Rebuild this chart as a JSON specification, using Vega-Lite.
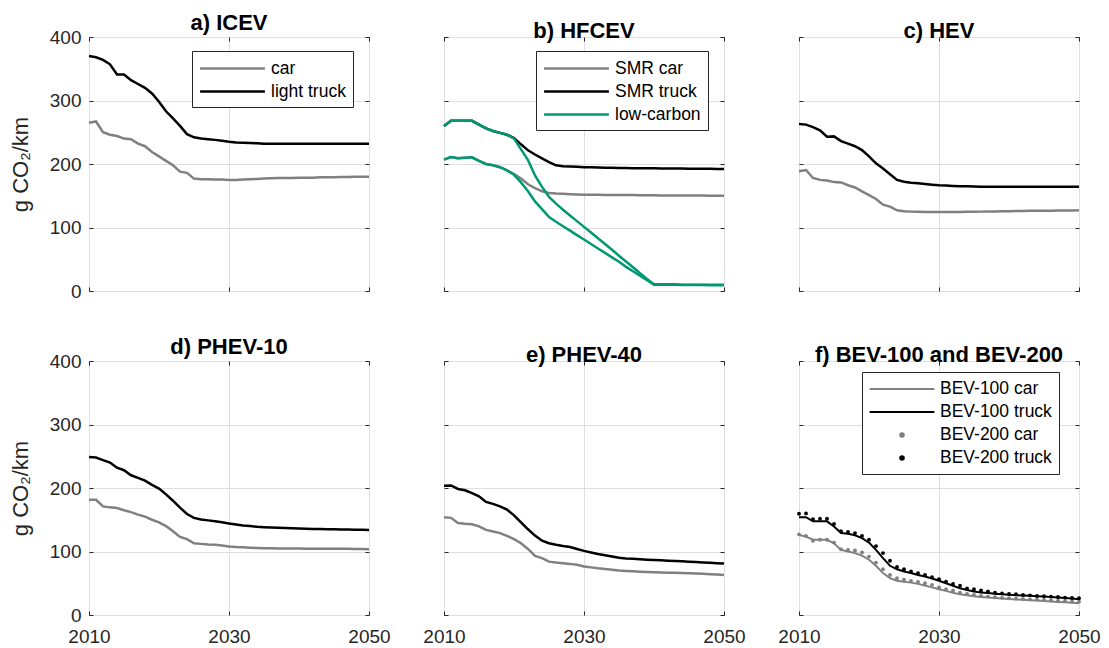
{
  "$schema": "https://vega.github.io/schema/vega-lite/v6.json",
  "background": "white",
  "padding": {"left": 8, "top": 11, "right": 5, "bottom": 5},
  "bounds": "flush",
  "columns": 3,
  "spacing": {"row": 70, "column": 75},
  "datasets": {
    "icev": [
      {"series":"car","year":2010,"value":265},{"series":"car","year":2011,"value":267},{"series":"car","year":2012,"value":250},{"series":"car","year":2013,"value":246},{"series":"car","year":2014,"value":244},{"series":"car","year":2015,"value":240},{"series":"car","year":2016,"value":239},{"series":"car","year":2017,"value":232},{"series":"car","year":2018,"value":228},{"series":"car","year":2019,"value":219},{"series":"car","year":2020,"value":212},{"series":"car","year":2021,"value":205},{"series":"car","year":2022,"value":198},{"series":"car","year":2023,"value":188},{"series":"car","year":2024,"value":186},{"series":"car","year":2025,"value":177},{"series":"car","year":2026,"value":176},{"series":"car","year":2027,"value":176},{"series":"car","year":2028,"value":175.5},{"series":"car","year":2029,"value":175.5},{"series":"car","year":2030,"value":175},{"series":"car","year":2031,"value":175},{"series":"car","year":2032,"value":175.5},{"series":"car","year":2033,"value":176},{"series":"car","year":2034,"value":176.5},{"series":"car","year":2035,"value":177},{"series":"car","year":2036,"value":177.5},{"series":"car","year":2037,"value":178},{"series":"car","year":2038,"value":178},{"series":"car","year":2039,"value":178},{"series":"car","year":2040,"value":178.5},{"series":"car","year":2041,"value":178.5},{"series":"car","year":2042,"value":178.5},{"series":"car","year":2043,"value":179},{"series":"car","year":2044,"value":179},{"series":"car","year":2045,"value":179},{"series":"car","year":2046,"value":179.5},{"series":"car","year":2047,"value":179.5},{"series":"car","year":2048,"value":180},{"series":"car","year":2049,"value":180},{"series":"car","year":2050,"value":180},
      {"series":"light truck","year":2010,"value":370},{"series":"light truck","year":2011,"value":368},{"series":"light truck","year":2012,"value":364},{"series":"light truck","year":2013,"value":357},{"series":"light truck","year":2014,"value":341},{"series":"light truck","year":2015,"value":341},{"series":"light truck","year":2016,"value":332},{"series":"light truck","year":2017,"value":326},{"series":"light truck","year":2018,"value":320},{"series":"light truck","year":2019,"value":311},{"series":"light truck","year":2020,"value":298},{"series":"light truck","year":2021,"value":283},{"series":"light truck","year":2022,"value":272},{"series":"light truck","year":2023,"value":260},{"series":"light truck","year":2024,"value":247},{"series":"light truck","year":2025,"value":242},{"series":"light truck","year":2026,"value":240},{"series":"light truck","year":2027,"value":239},{"series":"light truck","year":2028,"value":238},{"series":"light truck","year":2029,"value":236.5},{"series":"light truck","year":2030,"value":235},{"series":"light truck","year":2031,"value":234},{"series":"light truck","year":2032,"value":233.5},{"series":"light truck","year":2033,"value":233},{"series":"light truck","year":2034,"value":232.5},{"series":"light truck","year":2035,"value":232},{"series":"light truck","year":2036,"value":232},{"series":"light truck","year":2037,"value":232},{"series":"light truck","year":2038,"value":232},{"series":"light truck","year":2039,"value":232},{"series":"light truck","year":2040,"value":232},{"series":"light truck","year":2041,"value":232},{"series":"light truck","year":2042,"value":232},{"series":"light truck","year":2043,"value":232},{"series":"light truck","year":2044,"value":232},{"series":"light truck","year":2045,"value":232},{"series":"light truck","year":2046,"value":232},{"series":"light truck","year":2047,"value":232},{"series":"light truck","year":2048,"value":232},{"series":"light truck","year":2049,"value":232},{"series":"light truck","year":2050,"value":232}
    ],
    "hfcev": [
      {"series":"SMR car","vehicle":"car","year":2010,"value":207},{"series":"SMR car","vehicle":"car","year":2011,"value":211},{"series":"SMR car","vehicle":"car","year":2012,"value":209},{"series":"SMR car","vehicle":"car","year":2013,"value":210},{"series":"SMR car","vehicle":"car","year":2014,"value":210.5},{"series":"SMR car","vehicle":"car","year":2015,"value":205},{"series":"SMR car","vehicle":"car","year":2016,"value":200},{"series":"SMR car","vehicle":"car","year":2017,"value":198},{"series":"SMR car","vehicle":"car","year":2018,"value":195},{"series":"SMR car","vehicle":"car","year":2019,"value":190},{"series":"SMR car","vehicle":"car","year":2020,"value":184},{"series":"SMR car","vehicle":"car","year":2021,"value":177},{"series":"SMR car","vehicle":"car","year":2022,"value":168},{"series":"SMR car","vehicle":"car","year":2023,"value":162},{"series":"SMR car","vehicle":"car","year":2024,"value":157},{"series":"SMR car","vehicle":"car","year":2025,"value":154.5},{"series":"SMR car","vehicle":"car","year":2026,"value":153.5},{"series":"SMR car","vehicle":"car","year":2027,"value":153},{"series":"SMR car","vehicle":"car","year":2028,"value":152.5},{"series":"SMR car","vehicle":"car","year":2029,"value":152},{"series":"SMR car","vehicle":"car","year":2030,"value":151.7},{"series":"SMR car","vehicle":"car","year":2031,"value":151.5},{"series":"SMR car","vehicle":"car","year":2032,"value":151.5},{"series":"SMR car","vehicle":"car","year":2033,"value":151.3},{"series":"SMR car","vehicle":"car","year":2034,"value":151.2},{"series":"SMR car","vehicle":"car","year":2035,"value":151},{"series":"SMR car","vehicle":"car","year":2036,"value":151},{"series":"SMR car","vehicle":"car","year":2037,"value":151},{"series":"SMR car","vehicle":"car","year":2038,"value":150.8},{"series":"SMR car","vehicle":"car","year":2039,"value":150.7},{"series":"SMR car","vehicle":"car","year":2040,"value":150.6},{"series":"SMR car","vehicle":"car","year":2041,"value":150.5},{"series":"SMR car","vehicle":"car","year":2042,"value":150.5},{"series":"SMR car","vehicle":"car","year":2043,"value":150.4},{"series":"SMR car","vehicle":"car","year":2044,"value":150.3},{"series":"SMR car","vehicle":"car","year":2045,"value":150.3},{"series":"SMR car","vehicle":"car","year":2046,"value":150.2},{"series":"SMR car","vehicle":"car","year":2047,"value":150.2},{"series":"SMR car","vehicle":"car","year":2048,"value":150.1},{"series":"SMR car","vehicle":"car","year":2049,"value":150.1},{"series":"SMR car","vehicle":"car","year":2050,"value":150},
      {"series":"SMR truck","vehicle":"truck","year":2010,"value":260},{"series":"SMR truck","vehicle":"truck","year":2011,"value":268},{"series":"SMR truck","vehicle":"truck","year":2012,"value":268},{"series":"SMR truck","vehicle":"truck","year":2013,"value":268},{"series":"SMR truck","vehicle":"truck","year":2014,"value":268},{"series":"SMR truck","vehicle":"truck","year":2015,"value":262},{"series":"SMR truck","vehicle":"truck","year":2016,"value":256},{"series":"SMR truck","vehicle":"truck","year":2017,"value":252},{"series":"SMR truck","vehicle":"truck","year":2018,"value":249},{"series":"SMR truck","vehicle":"truck","year":2019,"value":246},{"series":"SMR truck","vehicle":"truck","year":2020,"value":241},{"series":"SMR truck","vehicle":"truck","year":2021,"value":231},{"series":"SMR truck","vehicle":"truck","year":2022,"value":221.5},{"series":"SMR truck","vehicle":"truck","year":2023,"value":215},{"series":"SMR truck","vehicle":"truck","year":2024,"value":209},{"series":"SMR truck","vehicle":"truck","year":2025,"value":203},{"series":"SMR truck","vehicle":"truck","year":2026,"value":198},{"series":"SMR truck","vehicle":"truck","year":2027,"value":196.5},{"series":"SMR truck","vehicle":"truck","year":2028,"value":196},{"series":"SMR truck","vehicle":"truck","year":2029,"value":195.5},{"series":"SMR truck","vehicle":"truck","year":2030,"value":195},{"series":"SMR truck","vehicle":"truck","year":2031,"value":194.7},{"series":"SMR truck","vehicle":"truck","year":2032,"value":194.5},{"series":"SMR truck","vehicle":"truck","year":2033,"value":194.2},{"series":"SMR truck","vehicle":"truck","year":2034,"value":194},{"series":"SMR truck","vehicle":"truck","year":2035,"value":193.8},{"series":"SMR truck","vehicle":"truck","year":2036,"value":193.6},{"series":"SMR truck","vehicle":"truck","year":2037,"value":193.5},{"series":"SMR truck","vehicle":"truck","year":2038,"value":193.4},{"series":"SMR truck","vehicle":"truck","year":2039,"value":193.3},{"series":"SMR truck","vehicle":"truck","year":2040,"value":193.2},{"series":"SMR truck","vehicle":"truck","year":2041,"value":193.1},{"series":"SMR truck","vehicle":"truck","year":2042,"value":193},{"series":"SMR truck","vehicle":"truck","year":2043,"value":192.9},{"series":"SMR truck","vehicle":"truck","year":2044,"value":192.8},{"series":"SMR truck","vehicle":"truck","year":2045,"value":192.7},{"series":"SMR truck","vehicle":"truck","year":2046,"value":192.6},{"series":"SMR truck","vehicle":"truck","year":2047,"value":192.5},{"series":"SMR truck","vehicle":"truck","year":2048,"value":192.4},{"series":"SMR truck","vehicle":"truck","year":2049,"value":192.3},{"series":"SMR truck","vehicle":"truck","year":2050,"value":192.2},
      {"series":"low-carbon","vehicle":"car","year":2010,"value":207},{"series":"low-carbon","vehicle":"car","year":2011,"value":211},{"series":"low-carbon","vehicle":"car","year":2012,"value":209},{"series":"low-carbon","vehicle":"car","year":2013,"value":210},{"series":"low-carbon","vehicle":"car","year":2014,"value":210.5},{"series":"low-carbon","vehicle":"car","year":2015,"value":205},{"series":"low-carbon","vehicle":"car","year":2016,"value":200},{"series":"low-carbon","vehicle":"car","year":2017,"value":198},{"series":"low-carbon","vehicle":"car","year":2018,"value":195},{"series":"low-carbon","vehicle":"car","year":2019,"value":190},{"series":"low-carbon","vehicle":"car","year":2020,"value":183},{"series":"low-carbon","vehicle":"car","year":2021,"value":171},{"series":"low-carbon","vehicle":"car","year":2022,"value":157},{"series":"low-carbon","vehicle":"car","year":2023,"value":141},{"series":"low-carbon","vehicle":"car","year":2024,"value":129},{"series":"low-carbon","vehicle":"car","year":2025,"value":116.5},{"series":"low-carbon","vehicle":"car","year":2026,"value":109},{"series":"low-carbon","vehicle":"car","year":2027,"value":102},{"series":"low-carbon","vehicle":"car","year":2028,"value":95},{"series":"low-carbon","vehicle":"car","year":2029,"value":88},{"series":"low-carbon","vehicle":"car","year":2030,"value":81},{"series":"low-carbon","vehicle":"car","year":2031,"value":74},{"series":"low-carbon","vehicle":"car","year":2032,"value":67},{"series":"low-carbon","vehicle":"car","year":2033,"value":60},{"series":"low-carbon","vehicle":"car","year":2034,"value":53},{"series":"low-carbon","vehicle":"car","year":2035,"value":46},{"series":"low-carbon","vehicle":"car","year":2036,"value":38},{"series":"low-carbon","vehicle":"car","year":2037,"value":31},{"series":"low-carbon","vehicle":"car","year":2038,"value":24},{"series":"low-carbon","vehicle":"car","year":2039,"value":17},{"series":"low-carbon","vehicle":"car","year":2040,"value":10},{"series":"low-carbon","vehicle":"car","year":2041,"value":10},{"series":"low-carbon","vehicle":"car","year":2042,"value":10},{"series":"low-carbon","vehicle":"car","year":2043,"value":10},{"series":"low-carbon","vehicle":"car","year":2044,"value":9.5},{"series":"low-carbon","vehicle":"car","year":2045,"value":9.5},{"series":"low-carbon","vehicle":"car","year":2046,"value":9.5},{"series":"low-carbon","vehicle":"car","year":2047,"value":9.5},{"series":"low-carbon","vehicle":"car","year":2048,"value":9},{"series":"low-carbon","vehicle":"car","year":2049,"value":9},{"series":"low-carbon","vehicle":"car","year":2050,"value":9},
      {"series":"low-carbon","vehicle":"truck","year":2010,"value":260},{"series":"low-carbon","vehicle":"truck","year":2011,"value":268},{"series":"low-carbon","vehicle":"truck","year":2012,"value":268},{"series":"low-carbon","vehicle":"truck","year":2013,"value":268},{"series":"low-carbon","vehicle":"truck","year":2014,"value":268},{"series":"low-carbon","vehicle":"truck","year":2015,"value":262},{"series":"low-carbon","vehicle":"truck","year":2016,"value":256},{"series":"low-carbon","vehicle":"truck","year":2017,"value":252},{"series":"low-carbon","vehicle":"truck","year":2018,"value":249},{"series":"low-carbon","vehicle":"truck","year":2019,"value":246},{"series":"low-carbon","vehicle":"truck","year":2020,"value":240},{"series":"low-carbon","vehicle":"truck","year":2021,"value":223},{"series":"low-carbon","vehicle":"truck","year":2022,"value":206},{"series":"low-carbon","vehicle":"truck","year":2023,"value":182},{"series":"low-carbon","vehicle":"truck","year":2024,"value":164},{"series":"low-carbon","vehicle":"truck","year":2025,"value":148},{"series":"low-carbon","vehicle":"truck","year":2026,"value":137.5},{"series":"low-carbon","vehicle":"truck","year":2027,"value":128},{"series":"low-carbon","vehicle":"truck","year":2028,"value":119},{"series":"low-carbon","vehicle":"truck","year":2029,"value":110},{"series":"low-carbon","vehicle":"truck","year":2030,"value":101},{"series":"low-carbon","vehicle":"truck","year":2031,"value":92},{"series":"low-carbon","vehicle":"truck","year":2032,"value":83},{"series":"low-carbon","vehicle":"truck","year":2033,"value":74},{"series":"low-carbon","vehicle":"truck","year":2034,"value":65},{"series":"low-carbon","vehicle":"truck","year":2035,"value":55.5},{"series":"low-carbon","vehicle":"truck","year":2036,"value":46.5},{"series":"low-carbon","vehicle":"truck","year":2037,"value":37.5},{"series":"low-carbon","vehicle":"truck","year":2038,"value":28},{"series":"low-carbon","vehicle":"truck","year":2039,"value":19},{"series":"low-carbon","vehicle":"truck","year":2040,"value":10.5},{"series":"low-carbon","vehicle":"truck","year":2041,"value":10.5},{"series":"low-carbon","vehicle":"truck","year":2042,"value":10.5},{"series":"low-carbon","vehicle":"truck","year":2043,"value":10.5},{"series":"low-carbon","vehicle":"truck","year":2044,"value":10},{"series":"low-carbon","vehicle":"truck","year":2045,"value":10},{"series":"low-carbon","vehicle":"truck","year":2046,"value":10},{"series":"low-carbon","vehicle":"truck","year":2047,"value":10},{"series":"low-carbon","vehicle":"truck","year":2048,"value":10},{"series":"low-carbon","vehicle":"truck","year":2049,"value":10},{"series":"low-carbon","vehicle":"truck","year":2050,"value":10}
    ],
    "hev": [
      {"series":"car","year":2010,"value":188.5},{"series":"car","year":2011,"value":190.5},{"series":"car","year":2012,"value":178},{"series":"car","year":2013,"value":175},{"series":"car","year":2014,"value":174},{"series":"car","year":2015,"value":171.5},{"series":"car","year":2016,"value":171},{"series":"car","year":2017,"value":166.5},{"series":"car","year":2018,"value":163},{"series":"car","year":2019,"value":157},{"series":"car","year":2020,"value":151},{"series":"car","year":2021,"value":145},{"series":"car","year":2022,"value":136},{"series":"car","year":2023,"value":133},{"series":"car","year":2024,"value":127},{"series":"car","year":2025,"value":125.5},{"series":"car","year":2026,"value":125},{"series":"car","year":2027,"value":124.8},{"series":"car","year":2028,"value":124.6},{"series":"car","year":2029,"value":124.5},{"series":"car","year":2030,"value":124.4},{"series":"car","year":2031,"value":124.4},{"series":"car","year":2032,"value":124.5},{"series":"car","year":2033,"value":124.6},{"series":"car","year":2034,"value":124.7},{"series":"car","year":2035,"value":124.8},{"series":"car","year":2036,"value":125},{"series":"car","year":2037,"value":125.1},{"series":"car","year":2038,"value":125.3},{"series":"car","year":2039,"value":125.5},{"series":"car","year":2040,"value":125.7},{"series":"car","year":2041,"value":125.9},{"series":"car","year":2042,"value":126},{"series":"car","year":2043,"value":126.2},{"series":"car","year":2044,"value":126.3},{"series":"car","year":2045,"value":126.4},{"series":"car","year":2046,"value":126.5},{"series":"car","year":2047,"value":126.6},{"series":"car","year":2048,"value":126.7},{"series":"car","year":2049,"value":126.8},{"series":"car","year":2050,"value":127},
      {"series":"truck","year":2010,"value":263},{"series":"truck","year":2011,"value":262},{"series":"truck","year":2012,"value":258},{"series":"truck","year":2013,"value":253},{"series":"truck","year":2014,"value":243},{"series":"truck","year":2015,"value":243.5},{"series":"truck","year":2016,"value":236},{"series":"truck","year":2017,"value":232},{"series":"truck","year":2018,"value":228},{"series":"truck","year":2019,"value":222},{"series":"truck","year":2020,"value":212},{"series":"truck","year":2021,"value":201},{"series":"truck","year":2022,"value":193},{"series":"truck","year":2023,"value":184},{"series":"truck","year":2024,"value":175},{"series":"truck","year":2025,"value":172},{"series":"truck","year":2026,"value":170.5},{"series":"truck","year":2027,"value":169.5},{"series":"truck","year":2028,"value":168.5},{"series":"truck","year":2029,"value":167.5},{"series":"truck","year":2030,"value":166.5},{"series":"truck","year":2031,"value":166},{"series":"truck","year":2032,"value":165.5},{"series":"truck","year":2033,"value":165},{"series":"truck","year":2034,"value":164.8},{"series":"truck","year":2035,"value":164.5},{"series":"truck","year":2036,"value":164.3},{"series":"truck","year":2037,"value":164.2},{"series":"truck","year":2038,"value":164.1},{"series":"truck","year":2039,"value":164},{"series":"truck","year":2040,"value":164},{"series":"truck","year":2041,"value":164},{"series":"truck","year":2042,"value":164},{"series":"truck","year":2043,"value":164},{"series":"truck","year":2044,"value":164},{"series":"truck","year":2045,"value":164},{"series":"truck","year":2046,"value":164},{"series":"truck","year":2047,"value":164},{"series":"truck","year":2048,"value":164},{"series":"truck","year":2049,"value":164},{"series":"truck","year":2050,"value":164}
    ],
    "phev10": [
      {"series":"car","year":2010,"value":181.5},{"series":"car","year":2011,"value":181.5},{"series":"car","year":2012,"value":171},{"series":"car","year":2013,"value":169.5},{"series":"car","year":2014,"value":168.5},{"series":"car","year":2015,"value":165},{"series":"car","year":2016,"value":162},{"series":"car","year":2017,"value":158},{"series":"car","year":2018,"value":155},{"series":"car","year":2019,"value":150},{"series":"car","year":2020,"value":146},{"series":"car","year":2021,"value":140},{"series":"car","year":2022,"value":132},{"series":"car","year":2023,"value":123},{"series":"car","year":2024,"value":119.5},{"series":"car","year":2025,"value":113},{"series":"car","year":2026,"value":112},{"series":"car","year":2027,"value":111},{"series":"car","year":2028,"value":110.5},{"series":"car","year":2029,"value":109.5},{"series":"car","year":2030,"value":108},{"series":"car","year":2031,"value":107},{"series":"car","year":2032,"value":106.5},{"series":"car","year":2033,"value":106},{"series":"car","year":2034,"value":105.5},{"series":"car","year":2035,"value":105.2},{"series":"car","year":2036,"value":105},{"series":"car","year":2037,"value":104.9},{"series":"car","year":2038,"value":104.8},{"series":"car","year":2039,"value":104.7},{"series":"car","year":2040,"value":104.6},{"series":"car","year":2041,"value":104.5},{"series":"car","year":2042,"value":104.4},{"series":"car","year":2043,"value":104.4},{"series":"car","year":2044,"value":104.3},{"series":"car","year":2045,"value":104.3},{"series":"car","year":2046,"value":104.2},{"series":"car","year":2047,"value":104.2},{"series":"car","year":2048,"value":104.1},{"series":"car","year":2049,"value":104},{"series":"car","year":2050,"value":103.5},
      {"series":"truck","year":2010,"value":249},{"series":"truck","year":2011,"value":248},{"series":"truck","year":2012,"value":244},{"series":"truck","year":2013,"value":240},{"series":"truck","year":2014,"value":232},{"series":"truck","year":2015,"value":228},{"series":"truck","year":2016,"value":220},{"series":"truck","year":2017,"value":216},{"series":"truck","year":2018,"value":211.5},{"series":"truck","year":2019,"value":205},{"series":"truck","year":2020,"value":199},{"series":"truck","year":2021,"value":190},{"series":"truck","year":2022,"value":180},{"series":"truck","year":2023,"value":169},{"series":"truck","year":2024,"value":159},{"series":"truck","year":2025,"value":153},{"series":"truck","year":2026,"value":150.5},{"series":"truck","year":2027,"value":149},{"series":"truck","year":2028,"value":147.5},{"series":"truck","year":2029,"value":146},{"series":"truck","year":2030,"value":144},{"series":"truck","year":2031,"value":142.5},{"series":"truck","year":2032,"value":141},{"series":"truck","year":2033,"value":140},{"series":"truck","year":2034,"value":139},{"series":"truck","year":2035,"value":138.3},{"series":"truck","year":2036,"value":137.8},{"series":"truck","year":2037,"value":137.3},{"series":"truck","year":2038,"value":136.9},{"series":"truck","year":2039,"value":136.5},{"series":"truck","year":2040,"value":136.2},{"series":"truck","year":2041,"value":135.9},{"series":"truck","year":2042,"value":135.6},{"series":"truck","year":2043,"value":135.3},{"series":"truck","year":2044,"value":135.1},{"series":"truck","year":2045,"value":134.9},{"series":"truck","year":2046,"value":134.7},{"series":"truck","year":2047,"value":134.5},{"series":"truck","year":2048,"value":134.3},{"series":"truck","year":2049,"value":134.1},{"series":"truck","year":2050,"value":134}
    ],
    "phev40": [
      {"series":"car","year":2010,"value":154},{"series":"car","year":2011,"value":153},{"series":"car","year":2012,"value":144.7},{"series":"car","year":2013,"value":143.7},{"series":"car","year":2014,"value":143},{"series":"car","year":2015,"value":139.5},{"series":"car","year":2016,"value":134},{"series":"car","year":2017,"value":131.6},{"series":"car","year":2018,"value":129},{"series":"car","year":2019,"value":124.7},{"series":"car","year":2020,"value":119.5},{"series":"car","year":2021,"value":113},{"series":"car","year":2022,"value":104},{"series":"car","year":2023,"value":93},{"series":"car","year":2024,"value":89.5},{"series":"car","year":2025,"value":84},{"series":"car","year":2026,"value":82.6},{"series":"car","year":2027,"value":81.6},{"series":"car","year":2028,"value":80.5},{"series":"car","year":2029,"value":79},{"series":"car","year":2030,"value":76.5},{"series":"car","year":2031,"value":75},{"series":"car","year":2032,"value":73.5},{"series":"car","year":2033,"value":72.3},{"series":"car","year":2034,"value":71.2},{"series":"car","year":2035,"value":70},{"series":"car","year":2036,"value":69.4},{"series":"car","year":2037,"value":68.8},{"series":"car","year":2038,"value":68.2},{"series":"car","year":2039,"value":67.8},{"series":"car","year":2040,"value":67.4},{"series":"car","year":2041,"value":67},{"series":"car","year":2042,"value":66.7},{"series":"car","year":2043,"value":66.4},{"series":"car","year":2044,"value":66},{"series":"car","year":2045,"value":65.8},{"series":"car","year":2046,"value":65.3},{"series":"car","year":2047,"value":64.8},{"series":"car","year":2048,"value":64.2},{"series":"car","year":2049,"value":63.6},{"series":"car","year":2050,"value":63},
      {"series":"truck","year":2010,"value":203.5},{"series":"truck","year":2011,"value":204},{"series":"truck","year":2012,"value":198.5},{"series":"truck","year":2013,"value":196.5},{"series":"truck","year":2014,"value":192},{"series":"truck","year":2015,"value":187},{"series":"truck","year":2016,"value":178},{"series":"truck","year":2017,"value":175},{"series":"truck","year":2018,"value":171},{"series":"truck","year":2019,"value":166},{"series":"truck","year":2020,"value":157},{"series":"truck","year":2021,"value":146},{"series":"truck","year":2022,"value":135},{"series":"truck","year":2023,"value":125},{"series":"truck","year":2024,"value":117},{"series":"truck","year":2025,"value":113},{"series":"truck","year":2026,"value":110.5},{"series":"truck","year":2027,"value":108.5},{"series":"truck","year":2028,"value":107},{"series":"truck","year":2029,"value":104},{"series":"truck","year":2030,"value":101},{"series":"truck","year":2031,"value":98.5},{"series":"truck","year":2032,"value":96},{"series":"truck","year":2033,"value":94},{"series":"truck","year":2034,"value":92},{"series":"truck","year":2035,"value":90},{"series":"truck","year":2036,"value":89},{"series":"truck","year":2037,"value":88.4},{"series":"truck","year":2038,"value":87.8},{"series":"truck","year":2039,"value":87.2},{"series":"truck","year":2040,"value":86.8},{"series":"truck","year":2041,"value":86.2},{"series":"truck","year":2042,"value":85.6},{"series":"truck","year":2043,"value":85},{"series":"truck","year":2044,"value":84.5},{"series":"truck","year":2045,"value":84},{"series":"truck","year":2046,"value":83.4},{"series":"truck","year":2047,"value":82.8},{"series":"truck","year":2048,"value":82.2},{"series":"truck","year":2049,"value":81.6},{"series":"truck","year":2050,"value":81}
    ],
    "bev": [
      {"series":"BEV-100 car","year":2010,"value":126},{"series":"BEV-100 car","year":2011,"value":123.5},{"series":"BEV-100 car","year":2012,"value":118.5},{"series":"BEV-100 car","year":2013,"value":118.5},{"series":"BEV-100 car","year":2014,"value":118.5},{"series":"BEV-100 car","year":2015,"value":113},{"series":"BEV-100 car","year":2016,"value":102.5},{"series":"BEV-100 car","year":2017,"value":100},{"series":"BEV-100 car","year":2018,"value":97.5},{"series":"BEV-100 car","year":2019,"value":93.5},{"series":"BEV-100 car","year":2020,"value":87},{"series":"BEV-100 car","year":2021,"value":77.5},{"series":"BEV-100 car","year":2022,"value":66},{"series":"BEV-100 car","year":2023,"value":58},{"series":"BEV-100 car","year":2024,"value":54},{"series":"BEV-100 car","year":2025,"value":52.5},{"series":"BEV-100 car","year":2026,"value":51},{"series":"BEV-100 car","year":2027,"value":49},{"series":"BEV-100 car","year":2028,"value":46.5},{"series":"BEV-100 car","year":2029,"value":43.5},{"series":"BEV-100 car","year":2030,"value":40.5},{"series":"BEV-100 car","year":2031,"value":38},{"series":"BEV-100 car","year":2032,"value":35},{"series":"BEV-100 car","year":2033,"value":32.5},{"series":"BEV-100 car","year":2034,"value":31},{"series":"BEV-100 car","year":2035,"value":29.5},{"series":"BEV-100 car","year":2036,"value":28.5},{"series":"BEV-100 car","year":2037,"value":27.5},{"series":"BEV-100 car","year":2038,"value":26.8},{"series":"BEV-100 car","year":2039,"value":26},{"series":"BEV-100 car","year":2040,"value":25.3},{"series":"BEV-100 car","year":2041,"value":24.6},{"series":"BEV-100 car","year":2042,"value":24},{"series":"BEV-100 car","year":2043,"value":23.4},{"series":"BEV-100 car","year":2044,"value":22.8},{"series":"BEV-100 car","year":2045,"value":22},{"series":"BEV-100 car","year":2046,"value":21.3},{"series":"BEV-100 car","year":2047,"value":20.6},{"series":"BEV-100 car","year":2048,"value":19.9},{"series":"BEV-100 car","year":2049,"value":19.2},{"series":"BEV-100 car","year":2050,"value":18.5},
      {"series":"BEV-100 truck","year":2010,"value":154},{"series":"BEV-100 truck","year":2011,"value":154},{"series":"BEV-100 truck","year":2012,"value":147.5},{"series":"BEV-100 truck","year":2013,"value":147.5},{"series":"BEV-100 truck","year":2014,"value":147.5},{"series":"BEV-100 truck","year":2015,"value":139.5},{"series":"BEV-100 truck","year":2016,"value":129},{"series":"BEV-100 truck","year":2017,"value":128},{"series":"BEV-100 truck","year":2018,"value":125.5},{"series":"BEV-100 truck","year":2019,"value":121},{"series":"BEV-100 truck","year":2020,"value":114},{"series":"BEV-100 truck","year":2021,"value":102.5},{"series":"BEV-100 truck","year":2022,"value":89.5},{"series":"BEV-100 truck","year":2023,"value":77.5},{"series":"BEV-100 truck","year":2024,"value":72},{"series":"BEV-100 truck","year":2025,"value":68.5},{"series":"BEV-100 truck","year":2026,"value":66},{"series":"BEV-100 truck","year":2027,"value":63},{"series":"BEV-100 truck","year":2028,"value":60.5},{"series":"BEV-100 truck","year":2029,"value":57.5},{"series":"BEV-100 truck","year":2030,"value":54},{"series":"BEV-100 truck","year":2031,"value":50},{"series":"BEV-100 truck","year":2032,"value":46},{"series":"BEV-100 truck","year":2033,"value":42},{"series":"BEV-100 truck","year":2034,"value":39.5},{"series":"BEV-100 truck","year":2035,"value":37},{"series":"BEV-100 truck","year":2036,"value":35.5},{"series":"BEV-100 truck","year":2037,"value":34.5},{"series":"BEV-100 truck","year":2038,"value":33.5},{"series":"BEV-100 truck","year":2039,"value":32.5},{"series":"BEV-100 truck","year":2040,"value":31.8},{"series":"BEV-100 truck","year":2041,"value":31.2},{"series":"BEV-100 truck","year":2042,"value":30.7},{"series":"BEV-100 truck","year":2043,"value":30.2},{"series":"BEV-100 truck","year":2044,"value":29.7},{"series":"BEV-100 truck","year":2045,"value":29.2},{"series":"BEV-100 truck","year":2046,"value":28.4},{"series":"BEV-100 truck","year":2047,"value":27.6},{"series":"BEV-100 truck","year":2048,"value":26.8},{"series":"BEV-100 truck","year":2049,"value":25.8},{"series":"BEV-100 truck","year":2050,"value":24.8},
      {"series":"BEV-200 car","year":2010,"value":127},{"series":"BEV-200 car","year":2011,"value":124.5},{"series":"BEV-200 car","year":2012,"value":117},{"series":"BEV-200 car","year":2013,"value":118.5},{"series":"BEV-200 car","year":2014,"value":118.5},{"series":"BEV-200 car","year":2015,"value":114},{"series":"BEV-200 car","year":2016,"value":103.5},{"series":"BEV-200 car","year":2017,"value":102.5},{"series":"BEV-200 car","year":2018,"value":101.5},{"series":"BEV-200 car","year":2019,"value":98.5},{"series":"BEV-200 car","year":2020,"value":92},{"series":"BEV-200 car","year":2021,"value":82.5},{"series":"BEV-200 car","year":2022,"value":72},{"series":"BEV-200 car","year":2023,"value":63},{"series":"BEV-200 car","year":2024,"value":58},{"series":"BEV-200 car","year":2025,"value":55.5},{"series":"BEV-200 car","year":2026,"value":53.5},{"series":"BEV-200 car","year":2027,"value":52},{"series":"BEV-200 car","year":2028,"value":50},{"series":"BEV-200 car","year":2029,"value":47.5},{"series":"BEV-200 car","year":2030,"value":43.5},{"series":"BEV-200 car","year":2031,"value":40.5},{"series":"BEV-200 car","year":2032,"value":38.5},{"series":"BEV-200 car","year":2033,"value":35},{"series":"BEV-200 car","year":2034,"value":33},{"series":"BEV-200 car","year":2035,"value":31.5},{"series":"BEV-200 car","year":2036,"value":30},{"series":"BEV-200 car","year":2037,"value":29},{"series":"BEV-200 car","year":2038,"value":28},{"series":"BEV-200 car","year":2039,"value":27},{"series":"BEV-200 car","year":2040,"value":26.3},{"series":"BEV-200 car","year":2041,"value":25.8},{"series":"BEV-200 car","year":2042,"value":25.2},{"series":"BEV-200 car","year":2043,"value":24.7},{"series":"BEV-200 car","year":2044,"value":24.2},{"series":"BEV-200 car","year":2045,"value":23.7},{"series":"BEV-200 car","year":2046,"value":23.2},{"series":"BEV-200 car","year":2047,"value":22.6},{"series":"BEV-200 car","year":2048,"value":22},{"series":"BEV-200 car","year":2049,"value":21.5},{"series":"BEV-200 car","year":2050,"value":21},
      {"series":"BEV-200 truck","year":2010,"value":159.5},{"series":"BEV-200 truck","year":2011,"value":160},{"series":"BEV-200 truck","year":2012,"value":151},{"series":"BEV-200 truck","year":2013,"value":151.5},{"series":"BEV-200 truck","year":2014,"value":151.5},{"series":"BEV-200 truck","year":2015,"value":143.5},{"series":"BEV-200 truck","year":2016,"value":132},{"series":"BEV-200 truck","year":2017,"value":131},{"series":"BEV-200 truck","year":2018,"value":129},{"series":"BEV-200 truck","year":2019,"value":124.5},{"series":"BEV-200 truck","year":2020,"value":118.5},{"series":"BEV-200 truck","year":2021,"value":108.5},{"series":"BEV-200 truck","year":2022,"value":97.5},{"series":"BEV-200 truck","year":2023,"value":85.5},{"series":"BEV-200 truck","year":2024,"value":75.5},{"series":"BEV-200 truck","year":2025,"value":72},{"series":"BEV-200 truck","year":2026,"value":68.5},{"series":"BEV-200 truck","year":2027,"value":66},{"series":"BEV-200 truck","year":2028,"value":63},{"series":"BEV-200 truck","year":2029,"value":59.5},{"series":"BEV-200 truck","year":2030,"value":56.5},{"series":"BEV-200 truck","year":2031,"value":52.5},{"series":"BEV-200 truck","year":2032,"value":49},{"series":"BEV-200 truck","year":2033,"value":46},{"series":"BEV-200 truck","year":2034,"value":42},{"series":"BEV-200 truck","year":2035,"value":40.5},{"series":"BEV-200 truck","year":2036,"value":38.5},{"series":"BEV-200 truck","year":2037,"value":37},{"series":"BEV-200 truck","year":2038,"value":35},{"series":"BEV-200 truck","year":2039,"value":34},{"series":"BEV-200 truck","year":2040,"value":33},{"series":"BEV-200 truck","year":2041,"value":32.6},{"series":"BEV-200 truck","year":2042,"value":31.6},{"series":"BEV-200 truck","year":2043,"value":31},{"series":"BEV-200 truck","year":2044,"value":30},{"series":"BEV-200 truck","year":2045,"value":29.5},{"series":"BEV-200 truck","year":2046,"value":29},{"series":"BEV-200 truck","year":2047,"value":28.4},{"series":"BEV-200 truck","year":2048,"value":27.4},{"series":"BEV-200 truck","year":2049,"value":26.8},{"series":"BEV-200 truck","year":2050,"value":26.3}
    ]
  },
  "concat": [
    {
      "title": "a) ICEV",
      "width": 280, "height": 254,
      "data": {"name": "icev"},
      "layer": [
        {
          "mark": {"type": "line", "strokeWidth": 2.5},
          "encoding": {
            "x": {"field": "year", "type": "quantitative", "scale": {"domain": [2010, 2050]}, "axis": {"values": [2010, 2030, 2050], "labels": false, "title": null}},
            "y": {"field": "value", "type": "quantitative", "scale": {"domain": [0, 400]}, "axis": {"values": [0, 100, 200, 300, 400], "title": "g CO₂/km"}},
            "color": {"field": "series", "type": "nominal", "scale": {"domain": ["car", "light truck"], "range": ["#808080", "#000000"]},
              "legend": {"title": null, "legendX": 103, "legendY": 14, "symbolType": "M-3.6,0H3.6", "symbolSize": 324, "symbolStrokeWidth": 2.5}}
          }
        },
        {
          "mark": {"type": "point", "opacity": 0},
          "encoding": {
            "x": {"field": "year", "type": "quantitative", "scale": {"domain": [2010, 2050]}, "axis": {"orient": "top", "values": [2010, 2030, 2050], "labels": false, "grid": false, "title": null}},
            "y": {"field": "value", "type": "quantitative", "scale": {"domain": [0, 400]}, "axis": {"orient": "right", "values": [0, 100, 200, 300, 400], "labels": false, "grid": false, "title": null}}
          }
        }
      ],
      "resolve": {"axis": {"x": "independent", "y": "independent"}}
    },
    {
      "title": "b) HFCEV",
      "width": 280, "height": 254,
      "data": {"name": "hfcev"},
      "layer": [
        {
          "mark": {"type": "line", "strokeWidth": 2.5},
          "encoding": {
            "x": {"field": "year", "type": "quantitative", "scale": {"domain": [2010, 2050]}, "axis": {"values": [2010, 2030, 2050], "labels": false, "title": null}},
            "y": {"field": "value", "type": "quantitative", "scale": {"domain": [0, 400]}, "axis": {"values": [0, 100, 200, 300, 400], "labels": false, "title": null}},
            "detail": {"field": "vehicle", "type": "nominal"},
            "color": {"field": "series", "type": "nominal", "scale": {"domain": ["SMR car", "SMR truck", "low-carbon"], "range": ["#808080", "#000000", "#009973"]},
              "legend": {"title": null, "legendX": 92, "legendY": 14, "symbolType": "M-3.6,0H3.6", "symbolSize": 324, "symbolStrokeWidth": 2.5}}
          }
        },
        {
          "mark": {"type": "point", "opacity": 0},
          "encoding": {
            "x": {"field": "year", "type": "quantitative", "scale": {"domain": [2010, 2050]}, "axis": {"orient": "top", "values": [2010, 2030, 2050], "labels": false, "grid": false, "title": null}},
            "y": {"field": "value", "type": "quantitative", "scale": {"domain": [0, 400]}, "axis": {"orient": "right", "values": [0, 100, 200, 300, 400], "labels": false, "grid": false, "title": null}}
          }
        }
      ],
      "resolve": {"axis": {"x": "independent", "y": "independent"}}
    },
    {
      "title": "c) HEV",
      "width": 280, "height": 254,
      "data": {"name": "hev"},
      "layer": [
        {
          "mark": {"type": "line", "strokeWidth": 2.5},
          "encoding": {
            "x": {"field": "year", "type": "quantitative", "scale": {"domain": [2010, 2050]}, "axis": {"values": [2010, 2030, 2050], "labels": false, "title": null}},
            "y": {"field": "value", "type": "quantitative", "scale": {"domain": [0, 400]}, "axis": {"values": [0, 100, 200, 300, 400], "labels": false, "title": null}},
            "color": {"field": "series", "type": "nominal", "scale": {"domain": ["car", "truck"], "range": ["#808080", "#000000"]}, "legend": null}
          }
        },
        {
          "mark": {"type": "point", "opacity": 0},
          "encoding": {
            "x": {"field": "year", "type": "quantitative", "scale": {"domain": [2010, 2050]}, "axis": {"orient": "top", "values": [2010, 2030, 2050], "labels": false, "grid": false, "title": null}},
            "y": {"field": "value", "type": "quantitative", "scale": {"domain": [0, 400]}, "axis": {"orient": "right", "values": [0, 100, 200, 300, 400], "labels": false, "grid": false, "title": null}}
          }
        }
      ],
      "resolve": {"axis": {"x": "independent", "y": "independent"}}
    },
    {
      "title": "d) PHEV-10",
      "width": 280, "height": 254,
      "data": {"name": "phev10"},
      "layer": [
        {
          "mark": {"type": "line", "strokeWidth": 2.5},
          "encoding": {
            "x": {"field": "year", "type": "quantitative", "scale": {"domain": [2010, 2050]}, "axis": {"values": [2010, 2030, 2050], "format": "d", "title": null}},
            "y": {"field": "value", "type": "quantitative", "scale": {"domain": [0, 400]}, "axis": {"values": [0, 100, 200, 300, 400], "title": "g CO₂/km"}},
            "color": {"field": "series", "type": "nominal", "scale": {"domain": ["car", "truck"], "range": ["#808080", "#000000"]}, "legend": null}
          }
        },
        {
          "mark": {"type": "point", "opacity": 0},
          "encoding": {
            "x": {"field": "year", "type": "quantitative", "scale": {"domain": [2010, 2050]}, "axis": {"orient": "top", "values": [2010, 2030, 2050], "labels": false, "grid": false, "title": null}},
            "y": {"field": "value", "type": "quantitative", "scale": {"domain": [0, 400]}, "axis": {"orient": "right", "values": [0, 100, 200, 300, 400], "labels": false, "grid": false, "title": null}}
          }
        }
      ],
      "resolve": {"axis": {"x": "independent", "y": "independent"}}
    },
    {
      "title": "e) PHEV-40",
      "width": 280, "height": 254,
      "data": {"name": "phev40"},
      "layer": [
        {
          "mark": {"type": "line", "strokeWidth": 2.5},
          "encoding": {
            "x": {"field": "year", "type": "quantitative", "scale": {"domain": [2010, 2050]}, "axis": {"values": [2010, 2030, 2050], "format": "d", "title": null}},
            "y": {"field": "value", "type": "quantitative", "scale": {"domain": [0, 400]}, "axis": {"values": [0, 100, 200, 300, 400], "labels": false, "title": null}},
            "color": {"field": "series", "type": "nominal", "scale": {"domain": ["car", "truck"], "range": ["#808080", "#000000"]}, "legend": null}
          }
        },
        {
          "mark": {"type": "point", "opacity": 0},
          "encoding": {
            "x": {"field": "year", "type": "quantitative", "scale": {"domain": [2010, 2050]}, "axis": {"orient": "top", "values": [2010, 2030, 2050], "labels": false, "grid": false, "title": null}},
            "y": {"field": "value", "type": "quantitative", "scale": {"domain": [0, 400]}, "axis": {"orient": "right", "values": [0, 100, 200, 300, 400], "labels": false, "grid": false, "title": null}}
          }
        }
      ],
      "resolve": {"axis": {"x": "independent", "y": "independent"}}
    },
    {
      "title": "f) BEV-100 and BEV-200",
      "width": 280, "height": 254,
      "data": {"name": "bev"},
      "layer": [
        {
          "transform": [{"filter": {"field": "series", "oneOf": ["BEV-100 car", "BEV-100 truck"]}}],
          "mark": {"type": "line", "strokeWidth": 2},
          "encoding": {
            "x": {"field": "year", "type": "quantitative", "scale": {"domain": [2010, 2050]}, "axis": {"values": [2010, 2030, 2050], "format": "d", "title": null}},
            "y": {"field": "value", "type": "quantitative", "scale": {"domain": [0, 400]}, "axis": {"values": [0, 100, 200, 300, 400], "labels": false, "title": null}},
            "color": {"field": "series", "type": "nominal", "scale": {"domain": ["BEV-100 car", "BEV-100 truck", "BEV-200 car", "BEV-200 truck"], "range": ["#808080", "#000000", "#808080", "#000000"]},
              "legend": {"title": null, "legendX": 63, "legendY": 11, "symbolType": "M-3.6,0H3.6", "symbolSize": 324, "symbolStrokeWidth": 2,
                "encode": {"symbols": {"update": {
                  "shape": {"signal": "indexof(datum.value, 'BEV-200') === 0 ? 'M-0.2,0A0.2,0.2,0,1,0,0.2,0A0.2,0.2,0,1,0,-0.2,0Z' : 'M-3.6,0H3.6'"},
                  "fill": {"signal": "datum.value === 'BEV-200 car' ? '#808080' : datum.value === 'BEV-200 truck' ? '#000000' : 'transparent'"},
                  "stroke": {"signal": "datum.value === 'BEV-100 car' ? '#808080' : datum.value === 'BEV-100 truck' ? '#000000' : 'transparent'"}
                }}}}}
          }
        },
        {
          "transform": [{"filter": {"field": "series", "oneOf": ["BEV-200 car", "BEV-200 truck"]}}],
          "mark": {"type": "point", "filled": true, "size": 15, "opacity": 1},
          "encoding": {
            "x": {"field": "year", "type": "quantitative", "scale": {"domain": [2010, 2050]}, "axis": {"orient": "top", "values": [2010, 2030, 2050], "labels": false, "grid": false, "title": null}},
            "y": {"field": "value", "type": "quantitative", "scale": {"domain": [0, 400]}, "axis": {"orient": "right", "values": [0, 100, 200, 300, 400], "labels": false, "grid": false, "title": null}},
            "color": {"field": "series", "type": "nominal", "scale": {"domain": ["BEV-100 car", "BEV-100 truck", "BEV-200 car", "BEV-200 truck"], "range": ["#808080", "#000000", "#808080", "#000000"]},
              "legend": {"title": null, "legendX": 63, "legendY": 11, "symbolType": "M-3.6,0H3.6", "symbolSize": 324, "symbolStrokeWidth": 2,
                "encode": {"symbols": {"update": {
                  "shape": {"signal": "indexof(datum.value, 'BEV-200') === 0 ? 'M-0.2,0A0.2,0.2,0,1,0,0.2,0A0.2,0.2,0,1,0,-0.2,0Z' : 'M-3.6,0H3.6'"},
                  "fill": {"signal": "datum.value === 'BEV-200 car' ? '#808080' : datum.value === 'BEV-200 truck' ? '#000000' : 'transparent'"},
                  "stroke": {"signal": "datum.value === 'BEV-100 car' ? '#808080' : datum.value === 'BEV-100 truck' ? '#000000' : 'transparent'"}
                }}}}}
          }
        }
      ],
      "resolve": {"axis": {"x": "independent", "y": "independent"}}
    }
  ],
  "resolve": {"scale": {"color": "independent"}, "legend": {"color": "independent"}},
  "config": {
    "font": "Liberation Sans",
    "view": {"stroke": "#262626", "strokeWidth": 1},
    "axis": {
      "domain": false, "grid": true, "gridColor": "#dfdfdf", "gridWidth": 1,
      "ticks": true, "tickColor": "#262626", "tickSize": -4, "tickWidth": 1,
      "labelFont": "Liberation Sans", "labelFontSize": 19, "labelColor": "#262626", "labelPadding": 12,
      "titleFont": "Liberation Sans", "titleFontSize": 22, "titleFontWeight": "normal", "titleColor": "#262626", "titlePadding": 17
    },
    "axisX": {"labelFlush": false, "labelOverlap": false, "labelPadding": 16},
    "title": {"font": "Liberation Sans", "fontSize": 22, "fontWeight": "bold", "color": "#000000", "offset": -6.5, "frame": "group"},
    "legend": {
      "orient": "none", "strokeColor": "#262626", "fillColor": "white", "padding": 7,
      "labelFont": "Liberation Sans", "labelFontSize": 17.5, "labelColor": "#000000",
      "symbolOffset": 23, "labelOffset": 28, "rowPadding": 4, "labelLimit": 300
    }
  }
}
